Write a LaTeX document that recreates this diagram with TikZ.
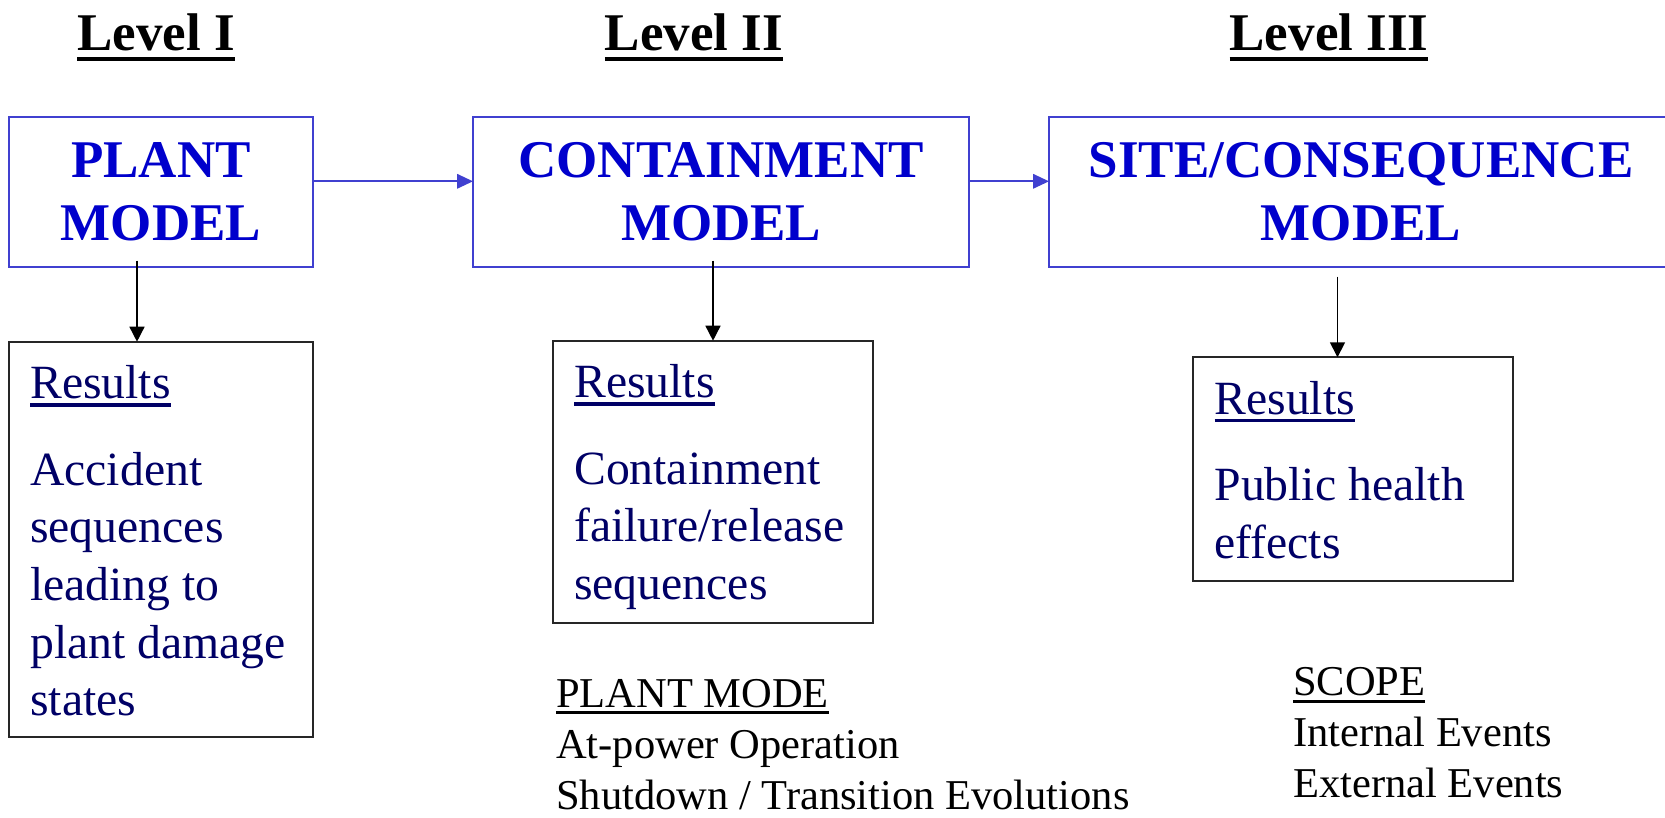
\documentclass[tikz,border=0pt]{standalone}
\usepackage{fontspec}
\setmainfont{Liberation Serif}
\usetikzlibrary{arrows.meta,calc}

\definecolor{modelblue}{RGB}{0,0,204}
\definecolor{edgeblue}{RGB}{64,64,208}
\definecolor{resultnavy}{RGB}{0,0,102}

% text with a bar drawn under it: #1 text, #2 bar bottom below baseline, #3 bar thickness
\newcommand\barred[3]{\setbox0=\hbox{#1}\rlap{\rule[-#2]{\wd0}{#3}}\box0}

\begin{document}
\begin{tikzpicture}[x=1pt,y=-1pt,
  levelhead/.style={font=\fontsize{53}{63}\selectfont\bfseries, inner sep=0, anchor=base},
  modelbox/.style={draw=edgeblue, line width=2pt, text=modelblue,
    font=\fontsize{53}{63}\selectfont\bfseries, align=center,
    minimum height=149.4pt, inner sep=0, outer sep=0},
  resultbox/.style={draw=black!85, line width=1.8pt, inner sep=0, outer sep=0, anchor=north west},
  % multi-line blocks are placed by the baseline of their last line
  resulttext/.style={text=resultnavy, font=\fontsize{47.7}{57.7}\selectfont,
    align=left, anchor=base west, inner sep=0},
  notetext/.style={font=\fontsize{42.5}{51}\selectfont, align=left, anchor=base west, inner sep=0},
  flow/.style={draw=edgeblue, line width=2pt, -{Triangle[length=16pt,width=14.5pt]}},
  drop/.style={draw=black, line width=1.5pt, -{Triangle[length=15pt,width=15pt]}},
]
\useasboundingbox[fill=white] (0,0) rectangle (1665,817);

% level headings
\node[levelhead] (lvl1) at (156,50.7) {\barred{Level I}{10pt}{4pt}};
\node[levelhead] (lvl2) at (694,50.7) {\barred{Level II}{10pt}{4pt}};
\node[levelhead] (lvl3) at (1329,50.7) {\barred{Level III}{10pt}{4pt}};

% model boxes
\node[modelbox, minimum width=304.6pt] (plant) at (161,192) {PLANT\\MODEL};
\node[modelbox, minimum width=496.3pt] (cont) at (721.15,192) {CONTAINMENT\\MODEL};
\node[modelbox, draw=none, minimum width=624pt] (site) at (1361,192) {SITE/CONSEQUENCE\\MODEL};
\coordinate (rim) at (1665,0);
\draw[edgeblue, line width=2pt] (site.north -| rim) -- (site.north west) -- (site.south west) -- (site.south -| rim);

% flow between models
\draw[flow] ([yshift=10.7pt]plant.east) -- ([yshift=10.7pt]cont.west);
\draw[flow] ([yshift=10.7pt]cont.east) -- ([yshift=10.7pt]site.west);

% result boxes
\node[resultbox, minimum width=304.6pt, minimum height=395pt] (res1) at (8.7,341.7) {};
\node[resultbox, minimum width=320.6pt, minimum height=282pt] (res2) at (552.7,340.7) {};
\node[resultbox, minimum width=320pt, minimum height=223.7pt] (res3) at (1193.3,357.3) {};

\node[resulttext] (res1txt) at ($(res1.north west)+(21.3,374.1)$)
  {\barred{Results}{8pt}{3.3pt}\\[28.8pt]Accident\\sequences\\leading to\\plant damage\\states};
\node[resulttext] (res2txt) at ($(res2.north west)+(21.3,258.7)$)
  {\barred{Results}{8pt}{3.3pt}\\[28.8pt]Containment\\failure/release\\sequences};
\node[resulttext] (res3txt) at ($(res3.north west)+(21,201)$)
  {\barred{Results}{8pt}{3.3pt}\\[28.8pt]Public health\\effects};

% arrows down to the results
\draw[drop] ($(res1.north |- plant.south)+(-24,-6)$) -- ($(res1.north)+(-24,0)$);
\draw[drop] ($(res2.north |- cont.south)+(0,-6)$) -- (res2.north);
\draw[drop] ($(res3.north |- site.south)+(-15.8,10)$) -- ($(res3.north)+(-15.8,0)$);

% notes
\node[notetext] (mode) at (556,809)
  {\barred{PLANT MODE}{7pt}{2.7pt}\\At-power Operation\\Shutdown / Transition Evolutions};
\node[notetext] (scope) at (1293,797)
  {\barred{SCOPE}{7.5pt}{2.7pt}\\Internal Events\\External Events};
\end{tikzpicture}
\end{document}
